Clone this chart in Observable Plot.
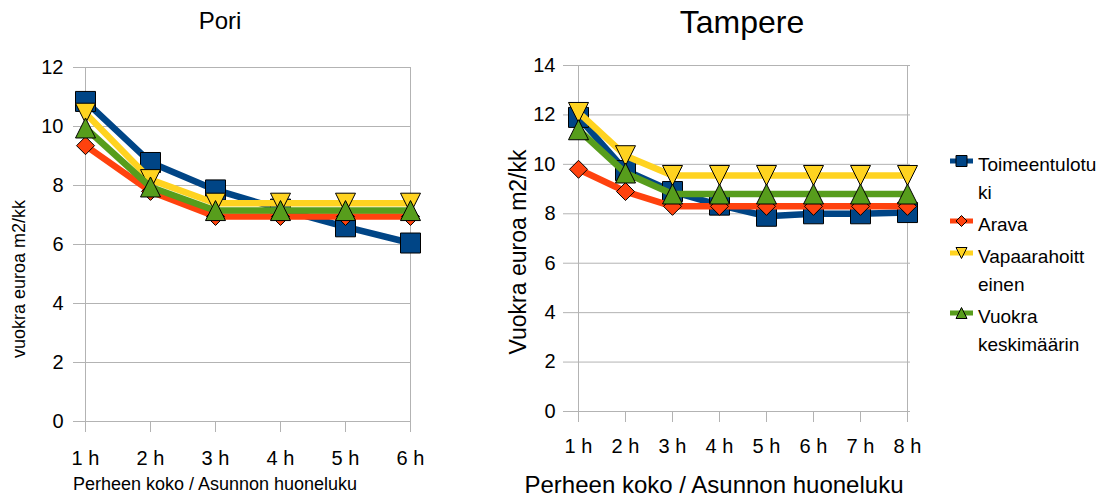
<!DOCTYPE html>
<html>
<head>
<meta charset="utf-8">
<script src="https://cdn.jsdelivr.net/npm/d3@7"></script>
<script src="https://cdn.jsdelivr.net/npm/@observablehq/plot@0.6"></script>
<style>
  body { margin: 0; background: #fff; }
  #chart { position: relative; width: 1114px; height: 499px; font-family: "Liberation Sans", Arial, sans-serif; }
  #chart > svg { position: absolute; top: 0; }
</style>
</head>
<body>
<div id="chart"></div>
<script>
// Series names, colours and legend wording
const seriesNames = ["Toimeentulotuki", "Arava", "Vapaarahoitteinen", "Vuokra keskimäärin"];
const seriesColors = ["#004586", "#ff420e", "#ffd320", "#579d1c"];
const legendLines = [["Toimeentulotu", "ki"], ["Arava"], ["Vapaarahoitt", "einen"], ["Vuokra", "keskimäärin"]];

// Pori
const poriTitle = "Pori";
const poriCategories = ["1 h", "2 h", "3 h", "4 h", "5 h", "6 h"];
const poriToimeentulotuki = [10.85, 8.78, 7.85, 7.2, 6.6, 6.05];
const poriArava = [9.35, 7.8, 6.95, 6.95, 6.95, 6.95];
const poriVapaarahoitteinen = [10.45, 8.2, 7.4, 7.4, 7.4, 7.4];
const poriVuokraKeskimaarin = [9.95, 7.95, 7.15, 7.15, 7.15, 7.15];
const poriYTicks = [0, 2, 4, 6, 8, 10, 12];
const poriYLabel = "vuokra euroa m2/kk";

// Tampere
const tampereTitle = "Tampere";
const tampereCategories = ["1 h", "2 h", "3 h", "4 h", "5 h", "6 h", "7 h", "8 h"];
const tampereToimeentulotuki = [11.9, 9.75, 8.9, 8.35, 7.9, 8.0, 8.0, 8.05];
const tampereArava = [9.8, 8.9, 8.3, 8.3, 8.3, 8.3, 8.3, 8.3];
const tampereVapaarahoitteinen = [12.1, 10.35, 9.55, 9.55, 9.55, 9.55, 9.55, 9.55];
const tampereVuokraKeskimaarin = [11.4, 9.65, 8.8, 8.8, 8.8, 8.8, 8.8, 8.8];
const tampereYTicks = [0, 2, 4, 6, 8, 10, 12, 14];
const tampereYLabel = "Vuokra euroa m2/kk";

const xLabel = "Perheen koko / Asunnon huoneluku";

const FONT = '"Liberation Sans", Arial, sans-serif';
const GRID = "#b3b3b3";

// Marker shapes: the radius r is the half-width of the shape's bounding box
const polygonSymbol = pts => ({
  draw(ctx, size) {
    const h = Math.sqrt(size / Math.PI);
    pts.forEach(([x, y], i) => i ? ctx.lineTo(x * h, y * h) : ctx.moveTo(x * h, y * h));
    ctx.closePath();
  }
});
const seriesSymbols = [
  polygonSymbol([[-1, -1], [1, -1], [1, 1], [-1, 1]]),   // square
  polygonSymbol([[0, -1], [1, 0], [0, 1], [-1, 0]]),     // diamond
  polygonSymbol([[-1, -1], [1, -1], [0, 1]]),            // triangle pointing down
  polygonSymbol([[0, -1], [1, 1], [-1, 1]])              // triangle pointing up
];
const symbolRadius = [10, 9, 10, 10];

function lineChart({categories, series, yTicks, width, margins, yTick, xTick}) {
  const rows = series.flatMap((vals, s) => vals.map((v, i) => ({cat: categories[i], value: v, s})));
  const marks = [
    Plot.gridY(yTicks, {stroke: GRID, strokeOpacity: 1}),
    Plot.ruleX([categories[0], categories[categories.length - 1]], {stroke: GRID}),
    Plot.axisY(yTicks, {tickSize: yTick.size, tickPadding: yTick.padding, stroke: GRID, fill: "#000", label: null}),
    Plot.axisX({tickSize: xTick.size, tickPadding: xTick.padding, stroke: GRID, fill: "#000", label: null})
  ];
  series.forEach((_, s) => {
    const d = rows.filter(r => r.s === s);
    marks.push(Plot.line(d, {x: "cat", y: "value", stroke: seriesColors[s], strokeWidth: 6.5, strokeLinejoin: "round"}));
    marks.push(Plot.dot(d, {x: "cat", y: "value", symbol: seriesSymbols[s], r: symbolRadius[s],
      fill: seriesColors[s], stroke: "#000", strokeWidth: 1}));
  });
  return Plot.plot({
    width, height: 499,
    marginLeft: margins[0], marginRight: margins[1], marginTop: margins[2], marginBottom: margins[3],
    x: {type: "point", domain: categories, padding: 0},
    y: {domain: [0, yTicks[yTicks.length - 1]]},
    style: {fontFamily: FONT, fontSize: "20px", color: "#000", background: "transparent", overflow: "visible"},
    marks
  });
}

const chart = document.getElementById("chart");

const pori = lineChart({
  categories: poriCategories,
  series: [poriToimeentulotuki, poriArava, poriVapaarahoitteinen, poriVuokraKeskimaarin],
  yTicks: poriYTicks, width: 430, margins: [84, 20, 67, 78],
  yTick: {size: 11, padding: 10}, xTick: {size: 11, padding: 18}
});
pori.style.left = "0px";
chart.appendChild(pori);

const tampere = lineChart({
  categories: tampereCategories,
  series: [tampereToimeentulotuki, tampereArava, tampereVapaarahoitteinen, tampereVuokraKeskimaarin],
  yTicks: tampereYTicks, width: 450, margins: [95, 20, 65, 88],
  yTick: {size: 12, padding: 8}, xTick: {size: 11, padding: 16}
});
tampere.style.left = "480px";
chart.appendChild(tampere);

// Titles, axis titles and legend
const overlay = d3.select(chart).append("svg")
  .attr("width", 1114).attr("height", 499)
  .style("left", "0px").style("pointer-events", "none")
  .attr("font-family", FONT).attr("fill", "#000");

overlay.append("text").attr("x", 220).attr("y", 29).attr("text-anchor", "middle").attr("font-size", 24).text(poriTitle);
overlay.append("text").attr("x", 742).attr("y", 33).attr("text-anchor", "middle").attr("font-size", 32).text(tampereTitle);

overlay.append("text").attr("transform", "translate(25,279) rotate(-90)").attr("text-anchor", "middle")
  .attr("font-size", 18).text(poriYLabel);
overlay.append("text").attr("transform", "translate(526,252) rotate(-90)").attr("text-anchor", "middle")
  .attr("font-size", 23).text(tampereYLabel);

overlay.append("text").attr("x", 215).attr("y", 490).attr("text-anchor", "middle").attr("font-size", 18).text(xLabel);
overlay.append("text").attr("x", 714).attr("y", 493).attr("text-anchor", "middle").attr("font-size", 24).text(xLabel);

const legend = overlay.append("g").attr("font-size", 19);
let baseline = 171;
legendLines.forEach((lines, s) => {
  const cy = baseline - 10;
  legend.append("rect").attr("x", 950).attr("y", cy - 2.5).attr("width", 23).attr("height", 5).attr("fill", seriesColors[s]);
  legend.append("path").attr("transform", `translate(961.5,${cy})`)
    .attr("d", d3.symbol(seriesSymbols[s], Math.PI * 5.5 * 5.5)())
    .attr("fill", seriesColors[s]).attr("stroke", "#000").attr("stroke-width", 1);
  lines.forEach((line, j) => {
    legend.append("text").attr("x", 978).attr("y", baseline + j * 28).text(line);
  });
  baseline += (lines.length - 1) * 28 + 32;
});
</script>
</body>
</html>
